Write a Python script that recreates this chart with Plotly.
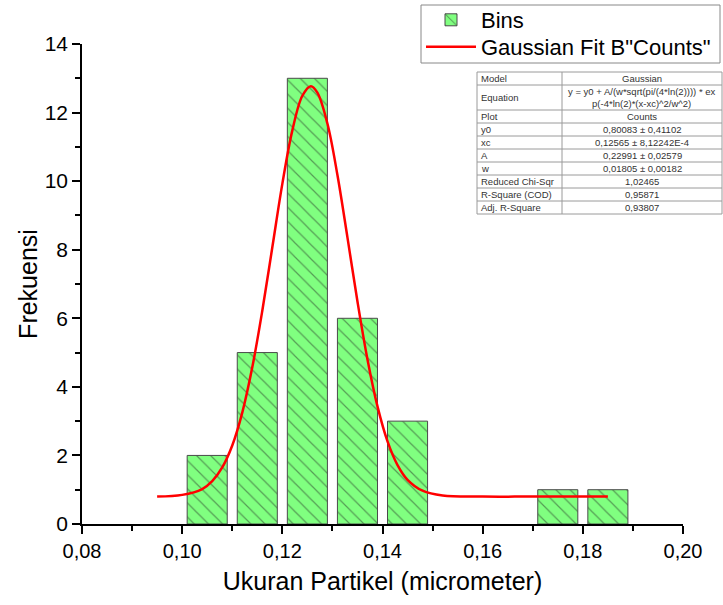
import plotly.graph_objects as go

# ---------------- data ----------------
bin_centers = [0.105, 0.115, 0.125, 0.135, 0.145, 0.175, 0.185]
bin_counts = [2, 5, 13, 6, 3, 1, 1]

fit_x = [0.095, 0.100, 0.104, 0.106, 0.108, 0.110, 0.112, 0.114, 0.116, 0.118,
         0.120, 0.122, 0.124, 0.1257, 0.127, 0.129, 0.131, 0.133, 0.135, 0.137,
         0.139, 0.141, 0.143, 0.145, 0.148, 0.152, 0.160, 0.170, 0.185]
fit_y = [0.80, 0.85, 1.02, 1.25, 1.65, 2.29, 3.25, 4.57, 6.22, 8.07,
         9.92, 11.48, 12.49, 12.77, 12.58, 11.68, 10.18, 8.36, 6.49, 4.80,
         3.43, 2.41, 1.72, 1.29, 0.97, 0.83, 0.80, 0.80, 0.80]

x_ticks = [0.08, 0.10, 0.12, 0.14, 0.16, 0.18, 0.20]
y_ticks = [0, 2, 4, 6, 8, 10, 12, 14]

table_labels = ["Model", "Equation", "Plot", "y0", "xc", "A", "w",
                "Reduced Chi-Sqr", "R-Square (COD)", "Adj. R-Square"]
table_values = ["Gaussian",
                "y = y0 + A/(w*sqrt(pi/(4*ln(2)))) * ex<br>p(-4*ln(2)*(x-xc)^2/w^2)",
                "Counts",
                "0,80083 ± 0,41102",
                "0,12565 ± 8,12242E-4",
                "0,22991 ± 0,02579",
                "0,01805 ± 0,00182",
                "1,02465",
                "0,95871",
                "0,93807"]

# ---------------- layout helpers ----------------
ML, MR, MT, MB = 82, 0, 44, 81
W, H = 723, 605
PW = W - ML - MR
PH = H - MT - MB
AXW = 683 - 82


def px_x(px):
    return (px - ML) / PW


def px_y(py):
    return (H - MB - py) / PH


FONT = "Liberation Sans, Arial, sans-serif"

fig = go.Figure()

fig.add_trace(go.Bar(
    x=bin_centers, y=bin_counts, width=0.008, name="Bins", legend="legend",
    marker=dict(
        color="#80FF80",
        line=dict(color="#4a4a4a", width=1),
        pattern=dict(shape="\\", fillmode="overlay", fgcolor="#2a3a2a",
                     bgcolor="#80FF80", size=10, solidity=0.12),
    ),
))

fig.add_trace(go.Scatter(
    x=fit_x, y=fit_y, mode="lines", name='Gaussian Fit B"Counts"', legend="legend2",
    line=dict(color="#FF0000", width=2.5, shape="spline"),
))

# ---------------- legend box + table (shapes + annotations) ----------------
shapes = []
shapes.append(dict(type="rect", xref="paper", yref="paper",
                   x0=px_x(421), x1=px_x(720), y0=px_y(5), y1=px_y(63),
                   line=dict(color="#888888", width=1), fillcolor="white", layer="above"))

t_left, t_mid, t_right = 477, 562, 722
row_tops = [72, 85, 110]
for i in range(len(table_labels) - 2):
    row_tops.append(row_tops[-1] + 13)
lc = "#9a9a9a"
shapes.append(dict(type="rect", xref="paper", yref="paper",
                   x0=px_x(t_left), x1=px_x(t_right),
                   y0=px_y(row_tops[0]), y1=px_y(row_tops[-1]),
                   line=dict(color=lc, width=1), fillcolor="white", layer="above"))
for yb in row_tops[1:-1]:
    shapes.append(dict(type="line", xref="paper", yref="paper",
                       x0=px_x(t_left), x1=px_x(t_right),
                       y0=px_y(yb), y1=px_y(yb),
                       line=dict(color=lc, width=1), layer="above"))
shapes.append(dict(type="line", xref="paper", yref="paper",
                   x0=px_x(t_mid), x1=px_x(t_mid),
                   y0=px_y(row_tops[0]), y1=px_y(row_tops[-1]),
                   line=dict(color=lc, width=1), layer="above"))

annotations = []
for i, (lab, val) in enumerate(zip(table_labels, table_values)):
    yc = (row_tops[i] + row_tops[i + 1]) / 2
    annotations.append(dict(xref="paper", yref="paper", x=px_x(t_left + 2), y=px_y(yc),
                            text=lab, showarrow=False, xanchor="left", yanchor="middle",
                            font=dict(family=FONT, size=9.5, color="#333333")))
    annotations.append(dict(xref="paper", yref="paper", x=px_x((t_mid + t_right) / 2), y=px_y(yc),
                            text=val, showarrow=False, xanchor="center", yanchor="middle",
                            align="center", borderpad=0,
                            font=dict(family=FONT, size=9.5, color="#333333")))

legend_common = dict(xanchor="left", yanchor="middle", bgcolor="rgba(0,0,0,0)",
                     borderwidth=0, itemwidth=50,
                     font=dict(family=FONT, size=22, color="#000000"))

fig.update_layout(
    width=W, height=H,
    margin=dict(l=ML, r=MR, t=MT, b=MB, pad=0, autoexpand=False),
    paper_bgcolor="white", plot_bgcolor="white",
    separators=",.",
    font=dict(family=FONT, color="#000000"),
    showlegend=True,
    legend=dict(x=px_x(421), y=px_y(20), **legend_common),
    legend2=dict(x=px_x(421), y=px_y(47), **legend_common),
    xaxis=dict(
        domain=[0, AXW / PW], range=[0.08, 0.20],
        tickmode="array", tickvals=x_ticks, tickformat=".2f",
        ticks="outside", ticklen=8, tickwidth=1.5, tickcolor="black",
        minor=dict(dtick=0.01, tick0=0.0, ticks="outside", ticklen=5, tickwidth=1.5, tickcolor="black"),
        showline=True, linecolor="black", linewidth=1.5,
        showgrid=False, zeroline=False,
        tickfont=dict(family=FONT, size=20, color="#000000"),
        title=dict(text="Ukuran Partikel (micrometer)", standoff=12,
                   font=dict(family=FONT, size=25, color="#000000")),
    ),
    yaxis=dict(
        range=[0, 14],
        tickmode="array", tickvals=y_ticks,
        ticks="outside", ticklen=8, tickwidth=1.5, tickcolor="black",
        minor=dict(dtick=1, tick0=0, ticks="outside", ticklen=5, tickwidth=1.5, tickcolor="black"),
        showline=True, linecolor="black", linewidth=1.5,
        showgrid=False, zeroline=False,
        tickfont=dict(family=FONT, size=21, color="#000000"),
        title=dict(text="Frekuensi", standoff=0,
                   font=dict(family=FONT, size=25, color="#000000")),
    ),
    shapes=shapes,
    annotations=annotations,
)

fig.write_html("out.html")
